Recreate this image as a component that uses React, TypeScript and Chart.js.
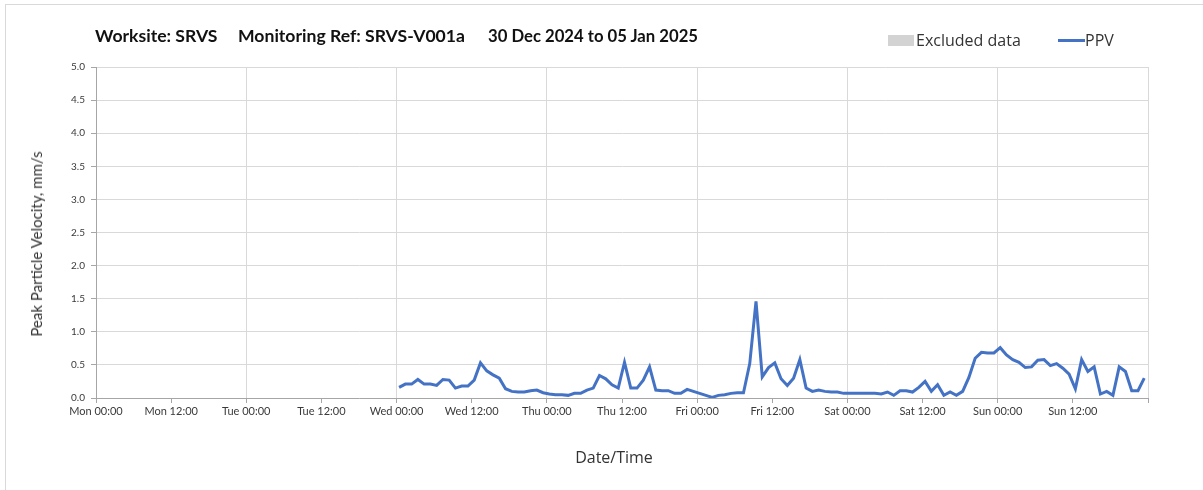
import React, { useEffect, useRef } from "react";
import { Chart, registerables } from "chart.js";

Chart.register(...registerables);

// Hours from Mon 00:00 of the first PPV reading; readings are hourly after that
const FIRST_READING_HOUR = 48.4;
const READING_STEP_HOURS = 1;

// PPV readings (mm/s), Wed 00:00 -> Sun 23:00
const ppvValues: number[] = [
  0.16, 0.21, 0.21, 0.28, 0.21, 0.21, 0.19, 0.28, 0.27, 0.15,
  0.18, 0.18, 0.27, 0.53, 0.41, 0.35, 0.30, 0.14, 0.10, 0.09,
  0.09, 0.11, 0.12, 0.08, 0.06, 0.05, 0.05, 0.04, 0.07, 0.07,
  0.12, 0.15, 0.34, 0.29, 0.20, 0.15, 0.54, 0.15, 0.15, 0.27,
  0.47, 0.12, 0.11, 0.11, 0.07, 0.07, 0.13, 0.10, 0.07, 0.04,
  0.01, 0.04, 0.05, 0.07, 0.08, 0.08, 0.52, 1.46, 0.32, 0.46,
  0.53, 0.29, 0.19, 0.30, 0.58, 0.15, 0.10, 0.12, 0.10, 0.09,
  0.09, 0.07, 0.07, 0.07, 0.07, 0.07, 0.07, 0.06, 0.09, 0.04,
  0.11, 0.11, 0.09, 0.16, 0.25, 0.10, 0.20, 0.04, 0.09, 0.04,
  0.10, 0.31, 0.60, 0.69, 0.68, 0.68, 0.76, 0.65, 0.58, 0.54,
  0.46, 0.47, 0.57, 0.58, 0.49, 0.52, 0.45, 0.36, 0.14, 0.58,
  0.40, 0.47, 0.06, 0.10, 0.04, 0.47, 0.40, 0.11, 0.11, 0.30,
];

// X tick positions (hours from Mon 00:00) and labels
const xTickHours: number[] = [0, 12, 24, 36, 48, 60, 72, 84, 96, 108, 120, 132, 144, 156, 168];
const xTickLabels: string[] = [
  "Mon 00:00", "Mon 12:00", "Tue 00:00", "Tue 12:00", "Wed 00:00", "Wed 12:00",
  "Thu 00:00", "Thu 12:00", "Fri 00:00", "Fri 12:00", "Sat 00:00", "Sat 12:00",
  "Sun 00:00", "Sun 12:00", "",
];

const yMin = 0;
const yMax = 5;
const yStep = 0.5;

const FONT = "Lato, 'Noto Sans', sans-serif";
const LEGEND_FONT = "'Open Sans', 'Noto Sans', sans-serif";

export default function App() {
  const canvasRef = useRef<HTMLCanvasElement | null>(null);

  useEffect(() => {
    const canvas = canvasRef.current;
    if (!canvas) return;
    const points = ppvValues.map((v, i) => ({
      x: FIRST_READING_HOUR + i * READING_STEP_HOURS,
      y: v,
    }));
    const chart = new Chart(canvas, {
      type: "line",
      data: {
        datasets: [
          {
            label: "PPV",
            data: points,
            borderColor: "#4472C4",
            borderWidth: 3,
            pointRadius: 0,
            tension: 0,
            fill: false,
          },
        ],
      },
      options: {
        animation: false,
        responsive: false,
        maintainAspectRatio: false,
        layout: { padding: { left: 0, top: 67, right: 55, bottom: 0 } },
        plugins: {
          legend: { display: false },
          title: { display: false },
          tooltip: { enabled: false },
        },
        scales: {
          x: {
            type: "linear",
            min: 0,
            max: 168,
            afterFit: (scale: any) => {
              scale.height = 92;
            },
            afterBuildTicks: (scale: any) => {
              scale.ticks = xTickHours.map((v) => ({ value: v }));
            },
            ticks: {
              autoSkip: false,
              maxRotation: 0,
              minRotation: 0,
              padding: 2,
              color: "#3a3a3a",
              font: { family: FONT, size: 11 },
              callback: (value: any) => {
                const idx = xTickHours.indexOf(Number(value));
                return idx >= 0 ? xTickLabels[idx] : "";
              },
            },
            grid: {
              color: (ctx: any) =>
                ctx.tick && ctx.tick.value % 24 === 0 && ctx.tick.value !== 0
                  ? "#d9d9d9"
                  : "rgba(0,0,0,0)",
              lineWidth: 1,
              drawTicks: true,
              tickLength: 5,
              tickColor: "#a6a6a6",
            },
            border: { display: true, color: "#a6a6a6", width: 1 },
            title: { display: false },
          },
          y: {
            type: "linear",
            min: yMin,
            max: yMax,
            afterFit: (scale: any) => {
              scale.width = 96;
            },
            ticks: {
              stepSize: yStep,
              padding: 6,
              color: "#3a3a3a",
              font: { family: FONT, size: 10 },
              callback: (value: any) => Number(value).toFixed(1),
            },
            grid: {
              color: (ctx: any) =>
                ctx.tick && ctx.tick.value !== 0 ? "#d9d9d9" : "rgba(0,0,0,0)",
              lineWidth: 1,
              drawTicks: true,
              tickLength: 5,
              tickColor: "#a6a6a6",
            },
            border: { display: true, color: "#a6a6a6", width: 1 },
            title: { display: false },
          },
        },
      },
    });
    return () => chart.destroy();
  }, []);

  return (
    <div
      style={{
        position: "absolute",
        left: 0,
        top: 0,
        width: 1203,
        height: 490,
        background: "#ffffff",
        overflow: "hidden",
        fontFamily: FONT,
      }}
    >
      <div
        style={{
          position: "absolute",
          left: 5,
          top: 4,
          width: 1198,
          height: 486,
          borderTop: "1px solid #d9d9d9",
          borderLeft: "1px solid #d9d9d9",
          boxSizing: "border-box",
        }}
      />
      <canvas
        ref={canvasRef}
        width={1203}
        height={490}
        style={{ position: "absolute", left: 0, top: 0, width: 1203, height: 490 }}
      />
      <div
        style={{
          position: "absolute",
          top: 26,
          left: 95,
          fontWeight: 700,
          fontSize: 17,
          color: "#111",
          whiteSpace: "nowrap",
          lineHeight: "20px",
        }}
      >
        <span style={{ position: "absolute", left: 0, fontSize: 17.6 }}>Worksite: SRVS</span>
        <span style={{ position: "absolute", left: 143, fontSize: 17.6 }}>Monitoring Ref: SRVS-V001a</span>
        <span style={{ position: "absolute", left: 393, fontSize: 16.7 }}>30 Dec 2024 to 05 Jan 2025</span>
      </div>
      <span
        style={{
          position: "absolute",
          left: 888,
          top: 35,
          width: 26,
          height: 11,
          background: "#d3d3d3",
        }}
      />
      <span
        style={{
          position: "absolute",
          left: 916,
          top: 30,
          fontFamily: LEGEND_FONT,
          fontSize: 16,
          color: "#333",
          whiteSpace: "nowrap",
          lineHeight: "20px",
        }}
      >
        Excluded data
      </span>
      <span
        style={{
          position: "absolute",
          left: 1058,
          top: 39,
          width: 27,
          height: 3,
          background: "#4472C4",
        }}
      />
      <span
        style={{
          position: "absolute",
          left: 1085,
          top: 30,
          fontFamily: LEGEND_FONT,
          fontSize: 16,
          color: "#333",
          whiteSpace: "nowrap",
          lineHeight: "20px",
        }}
      >
        PPV
      </span>
      <div
        style={{
          position: "absolute",
          left: 36,
          top: 244,
          transform: "translate(-50%, -50%) rotate(-90deg)",
          fontSize: 15,
          color: "#333",
          whiteSpace: "nowrap",
          lineHeight: "18px",
        }}
      >
        Peak Particle Velocity, mm/s
      </div>
      <div
        style={{
          position: "absolute",
          left: 614,
          top: 457,
          transform: "translate(-50%, -50%)",
          fontFamily: LEGEND_FONT,
          fontSize: 16,
          color: "#333",
          whiteSpace: "nowrap",
          lineHeight: "20px",
        }}
      >
        Date/Time
      </div>
    </div>
  );
}
